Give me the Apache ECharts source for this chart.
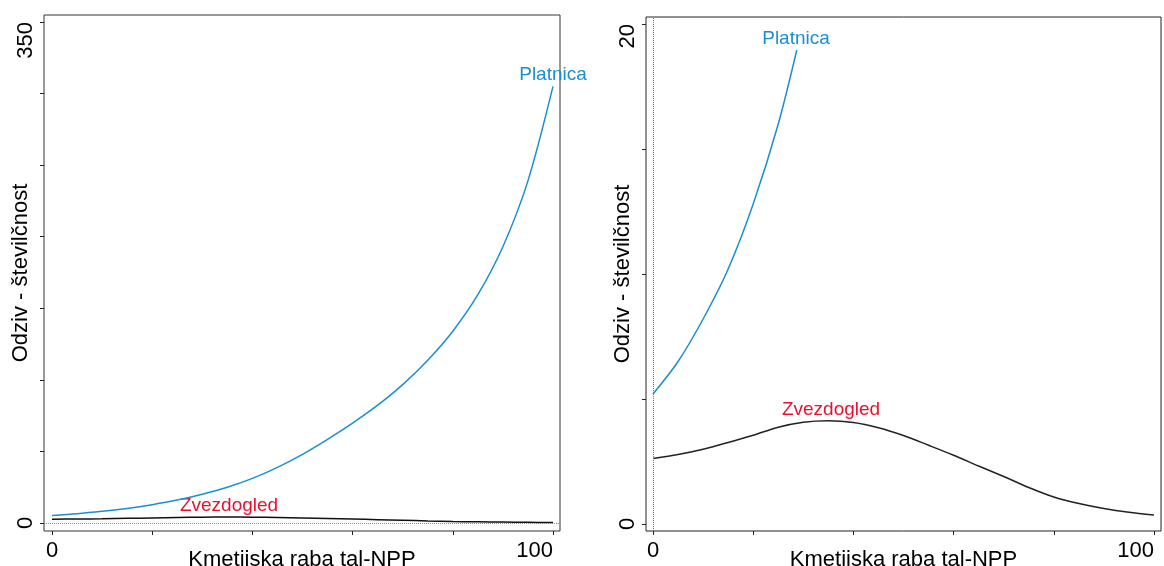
<!DOCTYPE html>
<html>
<head>
<meta charset="utf-8">
<title>Odziv - številčnost</title>
<script src="https://cdn.jsdelivr.net/npm/echarts@6/dist/echarts.min.js"></script>
<style>
  html, body { margin: 0; padding: 0; background: #fff; }
  #chart { width: 1164px; height: 566px; }
</style>
</head>
<body>
<div id="chart"></div>
<script>
// x values (Kmetijska raba tal-NPP)
const xValues = [0, 5, 10, 15, 20, 25, 30, 35, 40, 45, 50, 55, 60, 65, 70, 75, 80, 85, 90, 95, 100]
// response curves
const platnica = [5.2, 6.5, 8.2, 10.2, 12.8, 16.0, 20.1, 25.0, 31.2, 38.9, 48.0, 58.5, 69.8, 82.3, 96.7, 113.7, 134, 159.5, 193, 239, 305]
const zvezdogled = [2.62, 2.78, 2.99, 3.26, 3.55, 3.87, 4.07, 4.13, 4.06, 3.85, 3.54, 3.15, 2.75, 2.32, 1.9, 1.46, 1.08, 0.82, 0.62, 0.47, 0.36]
// right panel only shows the start of Platnica (line stops under its label)
const platnicaZoomX = [0, 5, 10, 15, 20, 25, 28.7]
const platnicaZoomY = [5.2, 6.5, 8.2, 10.2, 12.8, 16.0, 18.96]

// tick positions and labelled ticks
const xTicks = [0, 20, 40, 60, 80, 100]
const xTickLabels = [0, 100]
const yTicksLeft = [0, 50, 100, 150, 200, 250, 300, 350]
const yTickLabelsLeft = [0, 350]
const yTicksRight = [0, 5, 10, 15, 20]
const yTickLabelsRight = [0, 20]

const xName = 'Kmetijska raba tal-NPP'
const yName = 'Odziv - številčnost'

const blue = '#1a8fd0'
const red = '#e8102e'
const font = 'Liberation Sans, Arial, sans-serif'

const pairs = (xs, ys) => xs.map((x, i) => [x, ys[i]])

const chart = echarts.init(document.getElementById('chart'), null, { renderer: 'canvas' })

// shared axis styling (R-like: outward ticks, only end labels)
const xAxisBase = (gridIndex, min, max) => ({
  type: 'value',
  gridIndex,
  min,
  max,
  splitLine: { show: false },
  axisLine: { show: false, onZero: false },
  axisTick: { show: true, length: 4, inside: false, customValues: xTicks, lineStyle: { color: '#222' } },
  axisLabel: { customValues: xTickLabels, fontSize: 22, color: '#000', fontFamily: font, margin: 9, alignMaxLabel: 'right' },
  name: xName,
  nameLocation: 'middle',
  nameGap: 18,
  nameMoveOverlap: false,
  nameTextStyle: { fontSize: 22, color: '#000', fontFamily: font, verticalAlign: 'top' }
})

const yAxisBase = (gridIndex, min, max, ticks, labels) => ({
  type: 'value',
  gridIndex,
  min,
  max,
  splitLine: { show: false },
  axisLine: { show: false, onZero: false },
  axisTick: { show: true, length: 4, inside: false, customValues: ticks, lineStyle: { color: '#222' } },
  axisLabel: { customValues: labels, fontSize: 22, color: '#000', fontFamily: font, rotate: 90, margin: 7, alignMaxLabel: 'right' },
  name: yName,
  nameLocation: 'middle',
  nameGap: 12,
  nameMoveOverlap: false,
  nameTextStyle: { fontSize: 22, color: '#000', fontFamily: font }
})

const option = {
  animation: false,
  backgroundColor: '#fff',
  grid: [
    { left: 44, top: 15, width: 516, height: 516, show: true, borderColor: '#333', borderWidth: 1, containLabel: false, outerBoundsMode: 'none' },
    { left: 646, top: 17, width: 515, height: 514, show: true, borderColor: '#222', borderWidth: 1, containLabel: false, outerBoundsMode: 'none' }
  ],
  xAxis: [
    xAxisBase(0, -1.6, 101.4),
    xAxisBase(1, -1.4, 101.4)
  ],
  yAxis: [
    yAxisBase(0, -5.59, 354.9, yTicksLeft, yTickLabelsLeft),
    yAxisBase(1, -0.28, 20.28, yTicksRight, yTickLabelsRight)
  ],
  series: [
    {
      name: 'Platnica',
      type: 'line',
      xAxisIndex: 0,
      yAxisIndex: 0,
      data: pairs(xValues, platnica),
      smooth: 0.3,
      showSymbol: false,
      lineStyle: { color: blue, width: 1.5 }
    },
    {
      name: 'Zvezdogled',
      type: 'line',
      xAxisIndex: 0,
      yAxisIndex: 0,
      data: pairs(xValues, zvezdogled),
      smooth: 0.3,
      showSymbol: false,
      lineStyle: { color: '#111', width: 1.5 },
      // dotted zero line
      markLine: {
        silent: true,
        symbol: 'none',
        label: { show: false },
        lineStyle: { color: '#888', type: 'dotted', width: 1 },
        data: [{ yAxis: 0 }]
      }
    },
    {
      name: 'Platnica',
      type: 'line',
      xAxisIndex: 1,
      yAxisIndex: 1,
      data: pairs(platnicaZoomX, platnicaZoomY),
      smooth: 0.3,
      showSymbol: false,
      lineStyle: { color: blue, width: 1.5 }
    },
    {
      name: 'Zvezdogled',
      type: 'line',
      xAxisIndex: 1,
      yAxisIndex: 1,
      data: pairs(xValues, zvezdogled),
      smooth: 0.3,
      showSymbol: false,
      lineStyle: { color: '#222', width: 1.5 },
      // dotted line at x = 0
      markLine: {
        silent: true,
        symbol: 'none',
        label: { show: false },
        lineStyle: { color: '#777', type: 'dotted', width: 1 },
        data: [{ xAxis: 0 }]
      }
    }
  ],
  // species labels placed next to the curves
  graphic: [
    { type: 'text', x: 553, y: 75, style: { text: 'Platnica', fill: blue, font: '19px ' + font, textAlign: 'center', textVerticalAlign: 'middle' } },
    { type: 'text', x: 229, y: 506, style: { text: 'Zvezdogled', fill: red, font: '19px ' + font, textAlign: 'center', textVerticalAlign: 'middle' } },
    { type: 'text', x: 796, y: 39, style: { text: 'Platnica', fill: blue, font: '19px ' + font, textAlign: 'center', textVerticalAlign: 'middle' } },
    { type: 'text', x: 831, y: 410, style: { text: 'Zvezdogled', fill: red, font: '19px ' + font, textAlign: 'center', textVerticalAlign: 'middle' } }
  ]
}

chart.setOption(option)
</script>
</body>
</html>
